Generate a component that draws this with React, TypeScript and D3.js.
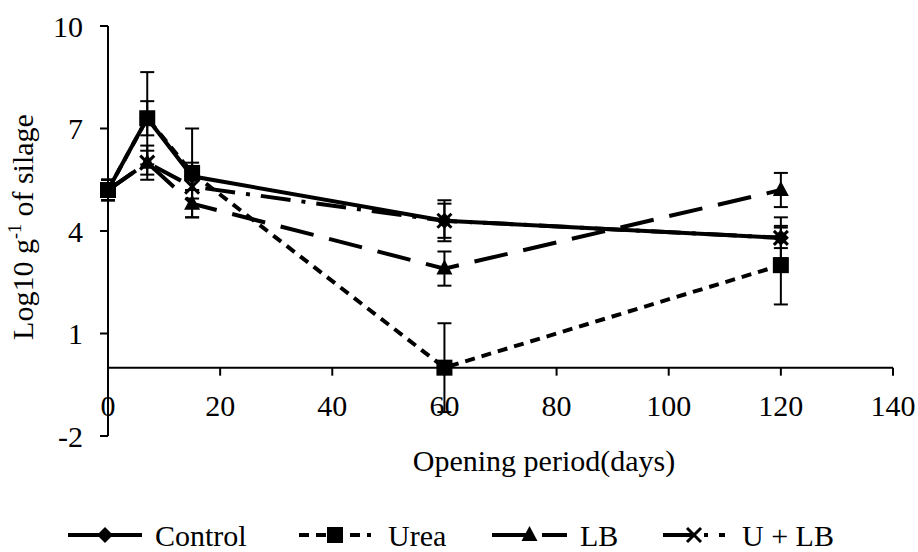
import React from "react";
import * as d3 from "d3";

const days = [0, 7, 15, 60, 120];
const seriesNames = ["Control", "Urea", "LB", "U + LB"];
const controlVals = [5.2, 7.3, 5.6, 4.3, 3.8];
const ureaVals = [5.2, 7.3, 5.7, 0.0, 3.0];
const lbVals = [5.2, 6.0, 4.8, 2.9, 5.2];
const ulbVals = [5.2, 6.0, 5.3, 4.3, 3.8];
const controlErr = [0.3, 0.5, 0.4, 0.5, 0.3];
const ureaErr = [0.3, 1.35, 1.3, 1.3, 1.15];
const lbErr = [0.3, 0.5, 0.4, 0.5, 0.5];
const ulbErr = [0.3, 0.35, 0.35, 0.6, 0.6];
const xTicks = [0, 20, 40, 60, 80, 100, 120, 140];
const yTicks = [-2, 1, 4, 7, 10];

const W = 918, H = 552;
const x = d3.scaleLinear().domain([0, 140]).range([108, 893]);
const y = d3.scaleLinear().domain([-2, 10]).range([436, 26]);
const FONT = '"Liberation Serif", Tinos, "Nimbus Roman", "Nimbus Roman No9 L", "TeX Gyre Termes", FreeSerif, "DejaVu Serif", "Noto Serif", "Times New Roman", Times, serif';
const FS = 30;

const styles = [
  { dash: "none", marker: "diamond" },
  { dash: "10,7", marker: "square" },
  { dash: "34,16", marker: "triangle" },
  { dash: "30,11,4,11", marker: "cross" },
];
const legendPos = [
  { x1: 68, x2: 142, tx: 155 },
  { x1: 299, x2: 371, tx: 388 },
  { x1: 492, x2: 567, tx: 580 },
  { x1: 663, x2: 725, tx: 742 },
];
const vals = [controlVals, ureaVals, lbVals, ulbVals];
const errs = [controlErr, ureaErr, lbErr, ulbErr];

function Marker({ type, cx, cy }: { type: string; cx: number; cy: number }) {
  if (type === "diamond") {
    return <path d={`M${cx},${cy - 8} L${cx + 8},${cy} L${cx},${cy + 8} L${cx - 8},${cy} Z`} fill="#000" />;
  }
  if (type === "square") {
    return <rect x={cx - 8} y={cy - 8} width={16} height={16} fill="#000" />;
  }
  if (type === "triangle") {
    return <path d={`M${cx},${cy - 9} L${cx + 8},${cy + 6} L${cx - 8},${cy + 6} Z`} fill="#000" />;
  }
  return (
    <g stroke="#000" strokeWidth={3}>
      <line x1={cx - 7} y1={cy - 7} x2={cx + 7} y2={cy + 7} />
      <line x1={cx - 7} y1={cy + 7} x2={cx + 7} y2={cy - 7} />
    </g>
  );
}

export default function App() {
  const line = d3.line<number>().x((_, i) => x(days[i])).y((v) => y(v));
  const textStyle = { fontFamily: FONT, fontSize: FS } as React.CSSProperties;
  return (
    <svg width={W} height={H} style={{ position: "absolute", left: 0, top: 0, background: "#fff" }}>
      <rect width={W} height={H} fill="#fff" />
      {/* axes */}
      <line x1={x(0)} y1={y(10)} x2={x(0)} y2={y(-2)} stroke="#000" strokeWidth={2} />
      {yTicks.map((t) => (
        <g key={t}>
          <line x1={x(0) - 8} x2={x(0)} y1={y(t)} y2={y(t)} stroke="#000" strokeWidth={2} />
          <text x={83} y={y(t)} dy="0.35em" textAnchor="end" style={textStyle}>{t}</text>
        </g>
      ))}
      <line x1={x(0)} y1={y(0)} x2={x(140)} y2={y(0)} stroke="#000" strokeWidth={2} />
      {xTicks.map((t) => (
        <g key={t}>
          <line x1={x(t)} x2={x(t)} y1={y(0)} y2={y(0) + 8} stroke="#000" strokeWidth={2} />
          <text x={x(t)} y={416} textAnchor="middle" style={textStyle}>{t}</text>
        </g>
      ))}
      <text x={544} y={471} textAnchor="middle" style={textStyle}>Opening period(days)</text>
      <text transform={`translate(33,227) rotate(-90)`} textAnchor="middle" style={textStyle}>
        Log10 g<tspan style={{ fontSize: 18 }} dy={-12}>-1</tspan><tspan dy={12}> of silage</tspan>
      </text>
      {/* error bars */}
      {vals.map((vs, si) => (
        <g key={"e" + si} stroke="#000" strokeWidth={2}>
          {vs.map((v, i) => {
            const e = errs[si][i];
            const cx = x(days[i]);
            return (
              <g key={i}>
                <line x1={cx} x2={cx} y1={y(v + e)} y2={y(v - e)} />
                <line x1={cx - 7} x2={cx + 7} y1={y(v + e)} y2={y(v + e)} />
                <line x1={cx - 7} x2={cx + 7} y1={y(v - e)} y2={y(v - e)} />
              </g>
            );
          })}
        </g>
      ))}
      {/* lines */}
      {vals.map((vs, si) => (
        <path key={"l" + si} d={line(vs) || ""} fill="none" stroke="#000" strokeWidth={4} strokeDasharray={styles[si].dash} />
      ))}
      {/* markers */}
      {vals.map((vs, si) => (
        <g key={"m" + si}>
          {vs.map((v, i) => (
            <Marker key={i} type={styles[si].marker} cx={x(days[i])} cy={y(v)} />
          ))}
        </g>
      ))}
      {/* legend */}
      {seriesNames.map((n, si) => {
        const p = legendPos[si];
        const ly = 535;
        return (
          <g key={"lg" + si}>
            <line x1={p.x1} x2={p.x2} y1={ly} y2={ly} stroke="#000" strokeWidth={4} strokeDasharray={styles[si].dash} />
            <Marker type={styles[si].marker} cx={(p.x1 + p.x2) / 2} cy={ly} />
            <text x={p.tx} y={ly} dy="0.35em" style={textStyle}>{n}</text>
          </g>
        );
      })}
    </svg>
  );
}
